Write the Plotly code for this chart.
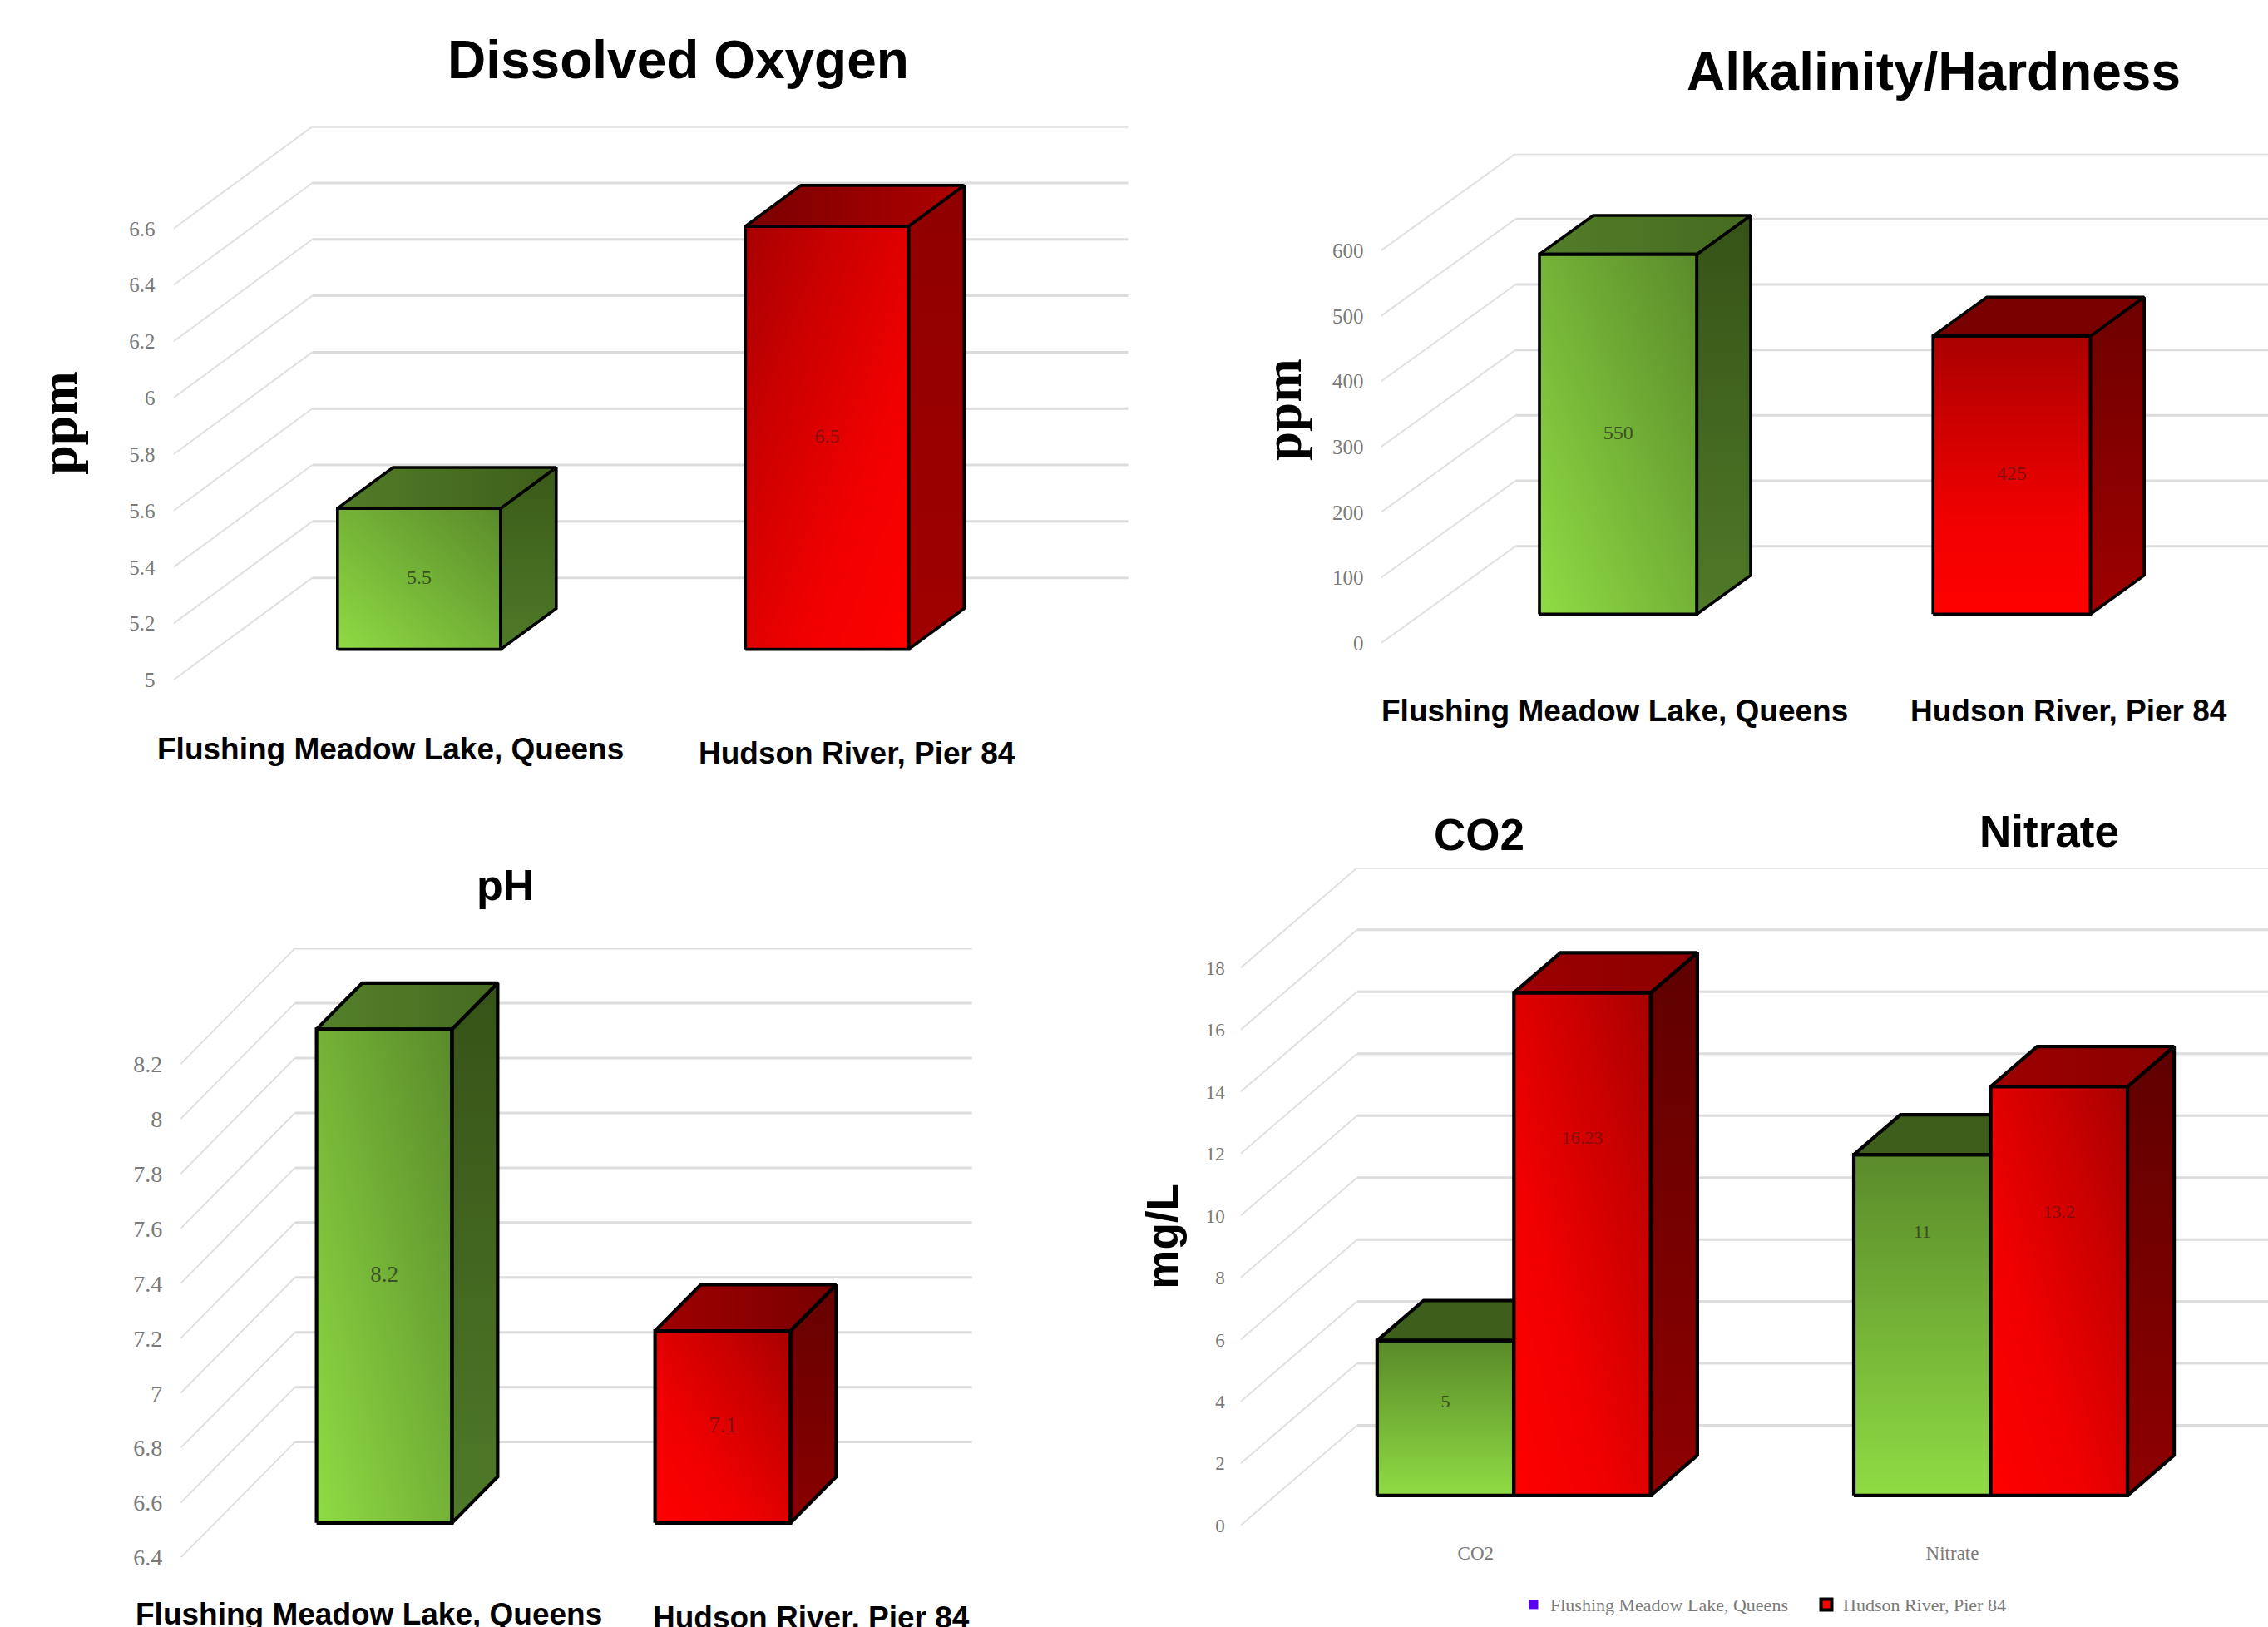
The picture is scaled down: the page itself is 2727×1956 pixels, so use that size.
import plotly.graph_objects as go

W, H = 2727, 1956

# ---------- data ----------
SITE_A = "Flushing Meadow Lake, Queens"
SITE_B = "Hudson River, Pier 84"

DO_VALUES_A = [5.5]
DO_VALUES_B = [6.5]
DO_TICKS = [5, 5.2, 5.4, 5.6, 5.8, 6, 6.2, 6.4, 6.6]

ALK_VALUES_A = [550]
ALK_VALUES_B = [425]
ALK_TICKS = [0, 100, 200, 300, 400, 500, 600]

PH_VALUES_A = [8.2]
PH_VALUES_B = [7.1]
PH_TICKS = [6.4, 6.6, 6.8, 7, 7.2, 7.4, 7.6, 7.8, 8, 8.2]

NUT_CATEGORIES = ["CO2", "Nitrate"]
NUT_VALUES_A = [5, 11]
NUT_VALUES_B = [16.23, 13.2]
NUT_TICKS = [0, 2, 4, 6, 8, 10, 12, 14, 16, 18]
# heights (in axis units above the bar base) at which the source chart printed its value labels
NUT_LABEL_HEIGHT_A = [2.98, 8.46]
NUT_LABEL_HEIGHT_B = [11.5, 9.1]

# ---------- look ----------
GREEN_SCALE = [[0, "#8fdc44"], [1, "#5a8a2a"]]
RED_SCALE = [[0, "#ff0000"], [.35, "#f00000"], [.7, "#cc0000"], [1, "#a80000"]]
DIAG_BL = (0, .5, .5, 1)      # corner weights: bottom-left, bottom-right, top-left, top-right
DIAG_BR = (.5, 0, 1, .5)
VERT = (0, 0, 1, 1)
SERIF = "Liberation Serif"
SANS = "Liberation Sans"
TICK = "#7a7a7a"
GRID = "#dcdcdc"
WALL = "#e0e0e0"

PANELS = [
    dict(fx=208.6, bx=375.5, slot=490.5, y0=824.2, yt=277.2, yb=700.4, right=1357.8, w=.4, lw=3.6,
         size=25, stand=21, ticks=DO_TICKS, a=DO_VALUES_A, b=DO_VALUES_B, cats=None,
         front_a=DIAG_BL, front_b=DIAG_BR,
         side_a=("#3a5a18", "#4f7a28"), side_b=("#900000", "#a00000"),
         top_a=("#527d28", "#3e5e1b"), top_b=("#7a0000", "#b00000")),
    dict(fx=1660.5, bx=1822.3, slot=473.2, y0=779.6, yt=303.7, yb=662.1, right=2727, w=.4, lw=3.6,
         size=25, stand=20, ticks=ALK_TICKS, a=ALK_VALUES_A, b=ALK_VALUES_B, cats=None,
         front_a=DIAG_BL, front_b=VERT,
         side_a=("#365217", "#4f7a28"), side_b=("#6e0000", "#9e0000"),
         top_a=("#527d28", "#466b20"), top_b=("#7a0000", "#7a0000")),
    dict(fx=217.3, bx=354.7, slot=407.0, y0=1888.0, yt=1289.6, yb=1747.9, right=1169, w=.4, lw=4.2,
         size=28, stand=21, ticks=PH_TICKS, a=PH_VALUES_A, b=PH_VALUES_B, cats=None,
         front_a=DIAG_BL, front_b=DIAG_BL,
         side_a=("#365217", "#4f7a28"), side_b=("#660000", "#8a0000"),
         top_a=("#54802a", "#466b20"), top_b=("#a00000", "#780000")),
    dict(fx=1491.7, bx=1631.8, slot=573.2, y0=1849.0, yt=1173.2, yb=1727.7, right=2727, w=.287, lw=4.2,
         size=23, stand=18, ticks=NUT_TICKS, a=NUT_VALUES_A, b=NUT_VALUES_B, cats=NUT_CATEGORIES,
         label_a=NUT_LABEL_HEIGHT_A, label_b=NUT_LABEL_HEIGHT_B,
         front_a=VERT, front_b=DIAG_BL,
         side_a=("#365217", "#4f7a28"), side_b=("#5f0000", "#8f0000"),
         top_a=("#3e5e1b", "#3e5e1b"), top_b=("#9e0000", "#8a0000")),
]

TITLES = [
    ("Dissolved Oxygen", 815.6, 73, 64), ("Alkalinity/Hardness", 2325, 86.5, 64),
    ("pH", 607, 1072.5, 52), ("CO2", 1778, 1012, 53), ("Nitrate", 2464, 1008, 53),
]
LABELS = [
    (SITE_A, 469, 908), (SITE_B, 1030, 912.8), (SITE_A, 1941.5, 861.3), (SITE_B, 2487, 861.3),
    (SITE_A, 443.3, 1957), (SITE_B, 975.8, 1960.5),
]
Y_TITLES = [("ppm", 71, 513, SERIF, 64), ("ppm", 1543, 496, SERIF, 63), ("mg/L", 1398, 1498, SANS, 53)]

fig = go.Figure()
layout = {}


def axis_ids(panel, layer):
    n = panel * 3 + layer + 1
    s = "" if n == 1 else str(n)
    return "x" + s, "y" + s, "xaxis" + s, "yaxis" + s


def add_face(xs, ys, axes, colors, lw, horizontal):
    lo, hi = (min(xs), max(xs)) if horizontal else (min(ys), max(ys))
    fig.add_trace(go.Scatter(
        x=xs + xs[:1], y=ys + ys[:1], xaxis=axes[0], yaxis=axes[1], mode="lines", fill="toself",
        fillgradient=dict(type="horizontal" if horizontal else "vertical", start=lo, stop=hi,
                          colorscale=[[0, colors[0]], [1, colors[1]]]),
        line=dict(color="black", width=lw), hoverinfo="skip", showlegend=False, cliponaxis=False))


def add_bar(p, ax, c, v, base, DX, DY, front, side, top, scale, label_color, label_height):
    w = p["w"]
    d0, d1 = .3, .7
    x0, x1 = c - w / 2 + d0 * DX, c + w / 2 + d0 * DX
    b0, t0 = base + d0 * DY, v + d0 * DY
    sx, sy = (d1 - d0) * DX, (d1 - d0) * DY
    add_face([x1, x1 + sx, x1 + sx, x1], [t0, t0 + sy, b0 + sy, b0], ax, (side[1], side[0]), p["lw"], False)
    add_face([x0, x0 + sx, x1 + sx, x1], [t0, t0 + sy, t0 + sy, t0], ax, top, p["lw"], True)
    n = 32
    xe = [x0 + (x1 - x0) * i / n for i in range(n + 1)]
    ye = [b0 + (t0 - b0) * j / n for j in range(n + 1)]
    bl, br, tl, tr = front
    z = []
    for j in range(n):
        fy = (j + .5) / n
        z.append([(bl * (1 - (i + .5) / n) + br * (i + .5) / n) * (1 - fy)
                  + (tl * (1 - (i + .5) / n) + tr * (i + .5) / n) * fy for i in range(n)])
    fig.add_trace(go.Heatmap(x=xe, y=ye, z=z, xaxis=ax[0], yaxis=ax[1], zmin=0, zmax=1, zsmooth="best",
                             colorscale=scale, showscale=False, hoverinfo="skip"))
    fig.add_trace(go.Scatter(
        x=[x0, x1, x1, x0, x0], y=[b0, b0, t0, t0, b0], xaxis=ax[0], yaxis=ax[1], mode="lines",
        line=dict(color="black", width=p["lw"]), hoverinfo="skip", showlegend=False, cliponaxis=False))
    ly = (b0 + t0) / 2 if label_height is None else b0 + label_height
    fig.add_trace(go.Scatter(
        x=[(x0 + x1) / 2], y=[ly], xaxis=ax[0], yaxis=ax[1], mode="text", text=[f"{v:g}"],
        textfont=dict(family=SERIF, size=p["size"] - 1, color=label_color), hoverinfo="skip", showlegend=False))


for i, p in enumerate(PANELS):
    ticks = p["ticks"]
    vmin, vmax = ticks[0], ticks[-1]
    ppv = (p["y0"] - p["yt"]) / (vmax - vmin)
    DX = (p["bx"] - p["fx"]) / p["slot"]
    DY = (p["y0"] - p["yb"]) / ppv
    xrange_ = [0, (p["right"] - p["fx"]) / p["slot"]]
    yrange_ = [vmin, vmax + DY]
    ytop_px = p["y0"] - (vmax + DY - vmin) * ppv
    dom_x = [p["fx"] / W, p["right"] / W]
    dom_y = [1 - p["y0"] / H, 1 - ytop_px / H]

    for k in range(3):
        xa, ya, xn, yn = axis_ids(i, k)
        show = k == 0
        cats = p["cats"]
        layout[xn] = dict(domain=dom_x, range=xrange_, anchor=ya, showgrid=False, zeroline=False, showline=False,
                          visible=bool(show and cats), ticks="",
                          tickmode="array", tickvals=[.5, 1.5] if cats else [], ticktext=cats or [],
                          ticklabelstandoff=17, ticklabelshift=-4, tickfont=dict(family=SERIF, size=23, color=TICK))
        layout[yn] = dict(domain=dom_y, range=yrange_, anchor=xa, showgrid=False, zeroline=False, showline=False,
                          visible=show, ticks="", tickmode="array", tickvals=ticks,
                          ticktext=[f"{t:g}" for t in ticks], ticklabelstandoff=p["stand"],
                          tickfont=dict(family=SERIF, size=p["size"], color=TICK))

    g = axis_ids(i, 0)[:2]
    for t in ticks:
        fig.add_trace(go.Scatter(x=[0, DX], y=[t, t + DY], xaxis=g[0], yaxis=g[1], mode="lines",
                                 line=dict(color=WALL, width=2), hoverinfo="skip", showlegend=False, cliponaxis=False))
        fig.add_trace(go.Scatter(x=[DX, 2 + DX], y=[t + DY, t + DY], xaxis=g[0], yaxis=g[1], mode="lines",
                                 line=dict(color=GRID, width=3), hoverinfo="skip", showlegend=False, cliponaxis=False))

    grouped = p["cats"] is not None
    for s, vals, labs, front, side, top, scale, lc in (
        (0, p["a"], p.get("label_a"), p["front_a"], p["side_a"], p["top_a"], GREEN_SCALE, "rgba(45,55,35,.8)"),
        (1, p["b"], p.get("label_b"), p["front_b"], p["side_b"], p["top_b"], RED_SCALE, "rgba(90,20,20,.7)"),
    ):
        ax = axis_ids(i, s + 1)[:2]
        for j, v in enumerate(vals):
            c = j + .5 + (s - .5) * p["w"] if grouped else s + .5
            add_bar(p, ax, c, v, vmin, DX, DY, front, side, top, scale, lc, labs[j] if labs else None)

# legend
fig.add_trace(go.Scatter(x=[None], y=[None], mode="markers", name=SITE_A, xaxis="x10", yaxis="y10",
                         marker=dict(symbol="square", size=11, color="#5a00f0")))
fig.add_trace(go.Scatter(x=[None], y=[None], mode="markers", name=SITE_B, xaxis="x10", yaxis="y10",
                         marker=dict(symbol="square", size=13, color="#ff0000", line=dict(color="black", width=4))))

ann = []
for text, x, y, size in TITLES:
    ann.append(dict(text=f"<b>{text}</b>", x=x / W, y=1 - y / H, xref="paper", yref="paper", showarrow=False,
                    xanchor="center", yanchor="middle", font=dict(family=SANS, size=size, color="black")))
for text, x, y in LABELS:
    ann.append(dict(text=f"<b>{text}</b>", x=x / W, y=1 - y / H, xref="paper", yref="paper", showarrow=False,
                    xanchor="center", yanchor="middle", font=dict(family=SANS, size=37, color="black")))
for text, x, y, fam, size in Y_TITLES:
    ann.append(dict(text=f"<b>{text}</b>", x=x / W, y=1 - y / H, xref="paper", yref="paper", showarrow=False,
                    textangle=-90, xanchor="center", yanchor="middle", font=dict(family=fam, size=size, color="black")))

fig.update_layout(
    width=W, height=H, margin=dict(l=0, r=0, t=0, b=0), paper_bgcolor="white", plot_bgcolor="rgba(0,0,0,0)",
    annotations=ann,
    legend=dict(orientation="h", x=1824 / W, y=1 - 1945 / H, xanchor="left", yanchor="middle",
                font=dict(family=SERIF, size=22, color=TICK), entrywidth=307, entrywidthmode="pixels",
                itemsizing="trace", bgcolor="rgba(0,0,0,0)"),
    **layout,
)
fig.write_html("out.html", config={"displayModeBar": False},
               post_script="document.body.style.margin='0';document.documentElement.style.overflow='hidden';")
